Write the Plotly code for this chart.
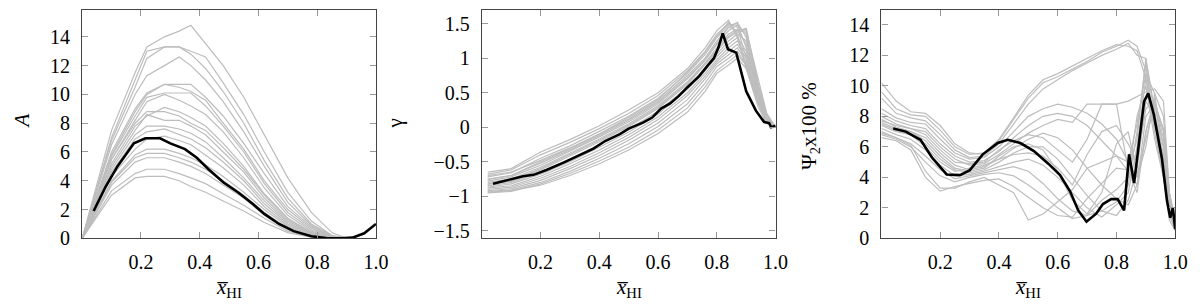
import plotly.graph_objects as go

# ---------------- Panel 1: A ----------------
a_grey_x = [0, 0.1, 0.18, 0.22, 0.28, 0.33, 0.37, 0.42, 0.48, 0.55, 0.62, 0.7, 0.78, 0.85, 0.9]
a_grey = [
    [0, 7.5, 11.5, 13.3, 14.0, 14.4, 14.8, 13.5, 12.0, 9.8, 7.2, 4.2, 1.8, 0.4, 0.0],
    [0, 7.0, 11.0, 13.0, 13.3, 13.3, 13.0, 12.6, 10.8, 8.6, 6.0, 3.2, 1.2, 0.2, 0],
    [0, 6.8, 10.5, 12.5, 13.3, 13.3, 12.8, 11.8, 10.2, 8.0, 5.4, 2.8, 1.0, 0.2, 0],
    [0, 6.5, 10.0, 11.3, 12.0, 12.6, 12.0, 11.0, 9.5, 7.4, 5.0, 2.5, 0.9, 0.15, 0],
    [0, 6.0, 9.0, 10.1, 10.7, 10.7, 10.7, 9.8, 8.5, 6.6, 4.5, 2.2, 0.8, 0.1, 0],
    [0, 5.8, 8.8, 10.0, 10.7, 10.5, 10.2, 9.6, 8.0, 6.2, 4.0, 2.0, 0.7, 0.1, 0],
    [0, 5.7, 8.5, 9.8, 10.1, 10.1, 10.1, 9.2, 7.8, 6.0, 3.8, 1.8, 0.6, 0.1, 0],
    [0, 5.5, 8.2, 9.5, 10.0, 9.6, 9.2, 8.6, 7.4, 5.6, 3.5, 1.6, 0.5, 0.05, 0],
    [0, 5.2, 7.8, 8.5, 9.1, 8.8, 8.4, 7.8, 6.6, 5.0, 3.1, 1.4, 0.4, 0.05, 0],
    [0, 5.0, 7.5, 8.6, 8.2, 8.2, 7.8, 7.2, 6.0, 4.6, 2.8, 1.2, 0.35, 0.03, 0],
    [0, 4.8, 7.2, 7.8, 7.8, 7.6, 7.3, 6.7, 5.6, 4.2, 2.6, 1.1, 0.3, 0.02, 0],
    [0, 4.6, 6.9, 7.4, 7.6, 7.2, 6.9, 6.3, 5.3, 4.0, 2.4, 1.0, 0.3, 0.02, 0],
    [0, 4.3, 6.2, 6.9, 7.1, 6.8, 6.5, 5.8, 4.9, 3.7, 2.2, 0.9, 0.25, 0.02, 0],
    [0, 4.0, 5.8, 6.2, 6.2, 5.9, 5.6, 5.1, 4.3, 3.2, 2.0, 0.8, 0.2, 0.02, 0],
    [0, 3.9, 5.6, 5.9, 5.9, 5.6, 5.3, 4.8, 4.0, 3.0, 1.8, 0.7, 0.2, 0.01, 0],
    [0, 3.7, 5.3, 5.6, 5.6, 5.3, 5.0, 4.5, 3.7, 2.8, 1.6, 0.6, 0.15, 0.01, 0],
    [0, 3.3, 4.5, 4.8, 4.8, 4.5, 4.2, 3.8, 3.1, 2.3, 1.4, 0.5, 0.1, 0, 0],
    [0, 3.0, 4.2, 4.3, 4.3, 4.0, 3.6, 3.2, 2.6, 1.9, 1.1, 0.4, 0.08, 0, 0],
    [0, 5.5, 8.0, 8.8, 8.8, 8.5, 8.0, 7.5, 6.3, 4.8, 3.0, 1.3, 0.4, 0.03, 0],
]
a_black_x = [0.039, 0.08, 0.12, 0.176, 0.215, 0.265, 0.3, 0.35, 0.39, 0.43, 0.48, 0.53,
             0.58, 0.62, 0.67, 0.72, 0.78, 0.83, 0.88, 0.92, 0.96, 1.0]
a_black_y = [1.9, 3.6, 5.0, 6.6, 6.95, 6.95, 6.6, 6.2, 5.6, 4.8, 3.9, 3.2,
             2.4, 1.7, 1.0, 0.5, 0.15, 0.02, 0.0, 0.05, 0.35, 1.0]

# ---------------- Panel 2: gamma ----------------
g_grey_x = [0.02, 0.1, 0.2, 0.3, 0.4, 0.5, 0.6, 0.7, 0.76, 0.8, 0.84, 0.87, 0.9, 0.94, 0.97, 1.0]
g_grey = [
    [-0.65, -0.60, -0.36, -0.18, 0.02, 0.25, 0.50, 0.85, 1.15, 1.40, 1.55, 1.30, 0.85, 0.35, 0.08, 0.0],
    [-0.68, -0.62, -0.40, -0.22, -0.02, 0.20, 0.46, 0.82, 1.10, 1.35, 1.50, 1.45, 1.00, 0.40, 0.10, 0.0],
    [-0.72, -0.66, -0.45, -0.27, -0.06, 0.16, 0.42, 0.78, 1.05, 1.30, 1.48, 1.50, 1.15, 0.50, 0.12, 0.0],
    [-0.75, -0.70, -0.50, -0.31, -0.10, 0.12, 0.38, 0.75, 1.00, 1.25, 1.45, 1.40, 1.42, 0.60, 0.15, 0.02],
    [-0.78, -0.72, -0.55, -0.35, -0.14, 0.08, 0.34, 0.70, 0.97, 1.20, 1.40, 1.48, 1.35, 0.55, 0.12, 0.0],
    [-0.80, -0.75, -0.58, -0.38, -0.17, 0.05, 0.31, 0.66, 0.93, 1.15, 1.35, 1.42, 1.20, 0.50, 0.10, 0.0],
    [-0.82, -0.78, -0.62, -0.42, -0.21, 0.01, 0.27, 0.62, 0.90, 1.10, 1.30, 1.38, 1.40, 0.70, 0.20, 0.0],
    [-0.85, -0.80, -0.65, -0.46, -0.25, -0.03, 0.23, 0.58, 0.86, 1.06, 1.25, 1.35, 1.25, 0.60, 0.15, 0.0],
    [-0.87, -0.82, -0.68, -0.50, -0.29, -0.07, 0.19, 0.55, 0.82, 1.02, 1.20, 1.30, 1.10, 0.50, 0.12, 0.0],
    [-0.88, -0.85, -0.71, -0.53, -0.33, -0.11, 0.15, 0.50, 0.78, 0.98, 1.15, 1.25, 1.05, 0.45, 0.10, 0.0],
    [-0.90, -0.87, -0.74, -0.57, -0.37, -0.15, 0.11, 0.46, 0.74, 0.95, 1.10, 1.20, 1.00, 0.42, 0.10, 0.0],
    [-0.92, -0.89, -0.77, -0.60, -0.41, -0.19, 0.06, 0.40, 0.70, 0.92, 1.05, 1.15, 0.95, 0.40, 0.08, 0.0],
    [-0.93, -0.91, -0.80, -0.64, -0.45, -0.24, 0.01, 0.34, 0.64, 0.88, 1.00, 1.10, 0.90, 0.38, 0.08, 0.0],
    [-0.95, -0.93, -0.82, -0.67, -0.49, -0.29, -0.04, 0.28, 0.58, 0.82, 0.95, 1.05, 0.90, 0.35, 0.06, 0.0],
    [-0.94, -0.92, -0.84, -0.70, -0.53, -0.33, -0.09, 0.22, 0.52, 0.78, 0.90, 1.00, 0.85, 0.30, 0.05, 0.0],
    [-0.70, -0.65, -0.48, -0.30, -0.10, 0.14, 0.40, 0.80, 1.08, 1.32, 1.52, 1.35, 0.90, 0.40, 0.08, 0.0],
    [-0.76, -0.70, -0.52, -0.33, -0.12, 0.10, 0.36, 0.72, 0.98, 1.22, 1.45, 1.52, 1.30, 0.50, 0.10, 0.0],
    [-0.83, -0.78, -0.60, -0.40, -0.19, 0.03, 0.29, 0.64, 0.92, 1.12, 1.32, 1.40, 1.43, 0.65, 0.18, 0.0],
]
g_black_x = [0.038, 0.1, 0.14, 0.176, 0.22, 0.28, 0.33, 0.38, 0.42, 0.47, 0.5, 0.55, 0.58,
             0.61, 0.64, 0.67, 0.7, 0.74, 0.77, 0.79, 0.805, 0.82, 0.838, 0.866, 0.9,
             0.933, 0.961, 0.978, 0.985, 1.0]
g_black_y = [-0.82, -0.75, -0.71, -0.69, -0.62, -0.51, -0.41, -0.31, -0.2, -0.1, -0.02, 0.07, 0.14,
             0.27, 0.34, 0.45, 0.58, 0.74, 0.9, 1.0, 1.15, 1.36, 1.13, 1.08, 0.52,
             0.24, 0.075, 0.06, 0.0, 0.02]

# ---------------- Panel 3: Psi_2 x 100 % ----------------
p_grey_x = [0.0, 0.05, 0.1, 0.15, 0.2, 0.25, 0.3, 0.35, 0.4, 0.45, 0.5, 0.55, 0.6, 0.65,
            0.7, 0.75, 0.8, 0.84, 0.87, 0.9, 0.93, 0.96, 0.98, 1.0]
p_grey = [
    [10.2, 9.0, 8.3, 8.2, 7.4, 6.2, 5.6, 5.5, 6.4, 7.8, 9.2, 10.2, 10.6, 11.1, 11.6, 12.2, 12.6, 13.0, 12.6, 11.0, 7.5, 5.0, 2.5, 0.8],
    [9.6, 8.5, 8.1, 8.0, 7.1, 6.0, 5.5, 5.6, 6.5, 7.9, 9.4, 10.4, 10.8, 11.3, 11.8, 12.3, 12.7, 12.6, 12.3, 10.5, 7.0, 4.5, 2.0, 0.6],
    [9.2, 8.2, 7.9, 7.7, 6.8, 5.8, 5.3, 5.4, 6.2, 7.5, 8.8, 9.8, 10.4, 11.0, 11.5, 12.0, 12.4, 12.8, 12.0, 11.8, 8.0, 5.5, 2.8, 1.0],
    [8.5, 7.9, 7.6, 7.5, 6.5, 5.6, 5.2, 5.3, 6.0, 7.0, 8.0, 8.5, 8.8, 8.6, 8.2, 7.5, 6.5, 5.0, 4.0, 6.0, 9.5, 8.0, 3.0, 1.0],
    [8.2, 7.7, 7.4, 7.2, 6.2, 5.4, 5.0, 5.1, 5.7, 6.6, 7.4, 8.0, 8.2, 8.0, 7.4, 6.4, 5.4, 4.4, 3.5, 7.0, 9.0, 7.0, 2.5, 1.2],
    [8.0, 7.5, 7.2, 7.0, 6.0, 5.2, 4.8, 4.9, 5.5, 6.2, 6.9, 7.4, 7.8, 7.6, 8.8, 8.8, 8.8, 9.0, 9.3, 9.6, 9.8, 9.0, 3.0, 1.0],
    [7.8, 7.3, 7.0, 6.6, 5.6, 4.8, 4.5, 4.7, 5.2, 5.9, 6.5, 6.9, 6.6, 5.8, 4.6, 3.5, 2.6, 2.2, 3.5, 8.0, 8.8, 6.0, 2.2, 0.9],
    [7.5, 7.1, 6.8, 6.2, 5.2, 4.5, 4.3, 4.5, 5.0, 5.6, 6.0, 6.0, 5.2, 4.0, 2.8, 1.8, 1.5, 2.5, 4.5, 9.0, 8.0, 5.0, 2.0, 0.7],
    [7.2, 6.8, 6.5, 5.8, 4.8, 4.1, 4.2, 4.4, 4.7, 5.0, 5.2, 4.8, 4.0, 3.0, 2.0, 1.4, 2.2, 3.0, 6.0, 10.5, 7.5, 4.5, 1.5, 0.6],
    [7.0, 6.6, 6.2, 5.4, 4.5, 3.9, 4.1, 4.3, 4.5, 4.7, 4.4, 3.6, 2.6, 1.8, 1.5, 1.8, 2.4, 3.5, 7.0, 11.5, 7.0, 4.0, 1.2, 0.5],
    [6.8, 6.5, 6.0, 5.0, 4.1, 3.7, 4.0, 4.2, 4.3, 4.1, 3.5, 2.8, 2.0, 1.3, 1.5, 2.5, 3.2, 4.0, 8.0, 10.0, 6.5, 4.0, 1.5, 0.8],
    [6.6, 6.4, 5.8, 4.0, 3.1, 3.4, 3.6, 3.8, 3.9, 3.4, 2.7, 2.0, 1.5, 1.4, 2.6, 3.6, 4.6, 4.5, 6.5, 11.8, 8.5, 5.0, 2.0, 0.8],
    [6.9, 6.6, 6.1, 4.4, 3.3, 3.3, 3.7, 4.0, 3.5, 3.0, 1.2, 1.6, 2.4, 3.2, 4.6, 5.0, 5.4, 5.0, 7.5, 10.8, 9.5, 4.8, 1.8, 0.7],
    [7.4, 7.0, 6.8, 6.0, 5.0, 4.4, 4.6, 4.8, 5.2, 5.5, 5.6, 5.4, 4.6, 3.5, 5.5, 7.0, 7.4, 6.2, 5.0, 8.5, 9.0, 6.0, 2.5, 0.9],
    [7.6, 7.2, 7.0, 6.4, 5.4, 4.6, 4.4, 4.6, 5.4, 6.0, 6.2, 5.8, 4.4, 2.5, 1.6, 3.0, 6.2, 7.0, 4.2, 6.5, 8.8, 7.2, 3.0, 1.2],
    [7.7, 7.4, 7.2, 6.8, 5.8, 5.0, 4.9, 5.0, 5.8, 6.4, 6.8, 6.6, 5.8, 5.0, 6.5, 8.8, 8.8, 4.5, 3.0, 7.0, 9.2, 6.5, 2.2, 1.0],
]
p_black_x = [0.04, 0.083, 0.133, 0.172, 0.222, 0.267, 0.3, 0.345, 0.396, 0.43, 0.473, 0.519,
             0.569, 0.608, 0.642, 0.67, 0.698, 0.731, 0.754, 0.782, 0.804, 0.826, 0.843,
             0.86, 0.894, 0.908, 0.927, 0.955, 0.972, 0.983, 0.992, 0.996, 1.0]
p_black_y = [7.2, 7.0, 6.46, 5.3, 4.19, 4.15, 4.46, 5.51, 6.25, 6.46, 6.25, 5.72,
             4.88, 4.15, 3.09, 1.83, 1.09, 1.62, 2.25, 2.57, 2.57, 1.83, 5.51,
             3.62, 8.98, 9.51, 8.14, 5.2, 2.46, 1.35, 2.0, 1.0, 0.6]

x_tickvals = [0.2, 0.4, 0.6, 0.8, 1.0]
x_ticktext = ["0.2", "0.4", "0.6", "0.8", "1.0"]
a_tickvals = [0, 2, 4, 6, 8, 10, 12, 14]
g_tickvals = [-1.5, -1, -0.5, 0, 0.5, 1, 1.5]
g_ticktext = ["\u22121.5", "\u22121", "\u22120.5", "0", "0.5", "1", "1.5"]
p_tickvals = [0, 2, 4, 6, 8, 10, 12, 14]

GREY = "#bdbdbd"
FONT = "'Liberation Serif', 'Times New Roman', Times, 'DejaVu Serif', serif"
W, H = 1200, 304

fig = go.Figure()

panels = [
    ("x", "y", a_grey_x, a_grey, a_black_x, a_black_y),
    ("x2", "y2", g_grey_x, g_grey, g_black_x, g_black_y),
    ("x3", "y3", p_grey_x, p_grey, p_black_x, p_black_y),
]
for xa, ya, gx, gys, bx, by in panels:
    for gy in gys:
        fig.add_trace(go.Scatter(x=gx, y=gy, mode="lines", xaxis=xa, yaxis=ya,
                                 line=dict(color=GREY, width=1.2), showlegend=False,
                                 hoverinfo="skip"))
    fig.add_trace(go.Scatter(x=bx, y=by, mode="lines", xaxis=xa, yaxis=ya,
                             line=dict(color="black", width=2.6), showlegend=False))

px_dom = [(75, 372), (479, 776), (883, 1180)]
y_dom = [(H - 239) / H, (H - 2.3) / H]

axis_common = dict(showgrid=False, zeroline=False, showline=True, linecolor="#444444",
                   linewidth=1.3, mirror="ticks", ticks="inside", ticklen=6,
                   tickcolor="#999999", tickwidth=1.2)

yranges = [(0, 15.85), (-1.61, 1.695), (0, 14.96)]
ytv = [(a_tickvals, [str(v) for v in a_tickvals]), (g_tickvals, g_ticktext),
       (p_tickvals, [str(v) for v in p_tickvals])]
layout = {}
for i in range(3):
    sfx = "" if i == 0 else str(i + 1)
    layout["xaxis" + sfx] = dict(domain=[px_dom[i][0] / W, px_dom[i][1] / W], range=[0, 1],
                                 tickvals=x_tickvals, ticktext=x_ticktext,
                                 anchor="y" + sfx, ticklabelstandoff=5, **axis_common)
    layout["yaxis" + sfx] = dict(domain=list(y_dom), range=list(yranges[i]),
                                 tickvals=ytv[i][0], ticktext=ytv[i][1],
                                 anchor="x" + sfx, ticklabelstandoff=7, **axis_common)

annotations = []
xtitle = "<i>x\u0305</i><sub>HI</sub>"
for i in range(3):
    cx = (px_dom[i][0] + px_dom[i][1]) / 2 / W
    annotations.append(dict(text=xtitle, x=cx, y=1 - 290 / H, xref="paper", yref="paper",
                            showarrow=False, font=dict(family=FONT, size=21, color="black"),
                            xanchor="center", yanchor="middle"))
ytitles = [("<i>A</i>", 14, 117), ("\u03b3", 391, 120), ("\u03a8<sub>2</sub>x100 %", 810, 122)]
for t, xpx, ypx in ytitles:
    annotations.append(dict(text=t, x=xpx / W, y=1 - ypx / H, xref="paper", yref="paper",
                            showarrow=False, textangle=-90,
                            font=dict(family=FONT, size=21, color="black"),
                            xanchor="center", yanchor="middle"))

fig.update_layout(width=W, height=H, margin=dict(l=0, r=0, t=0, b=0),
                  plot_bgcolor="white", paper_bgcolor="white",
                  font=dict(family=FONT, size=20, color="black"),
                  annotations=annotations, **layout)
fig.update_xaxes(tickfont=dict(family=FONT, size=20, color="black"))
fig.update_yaxes(tickfont=dict(family=FONT, size=20, color="black"))

fig.write_html("out.html")
